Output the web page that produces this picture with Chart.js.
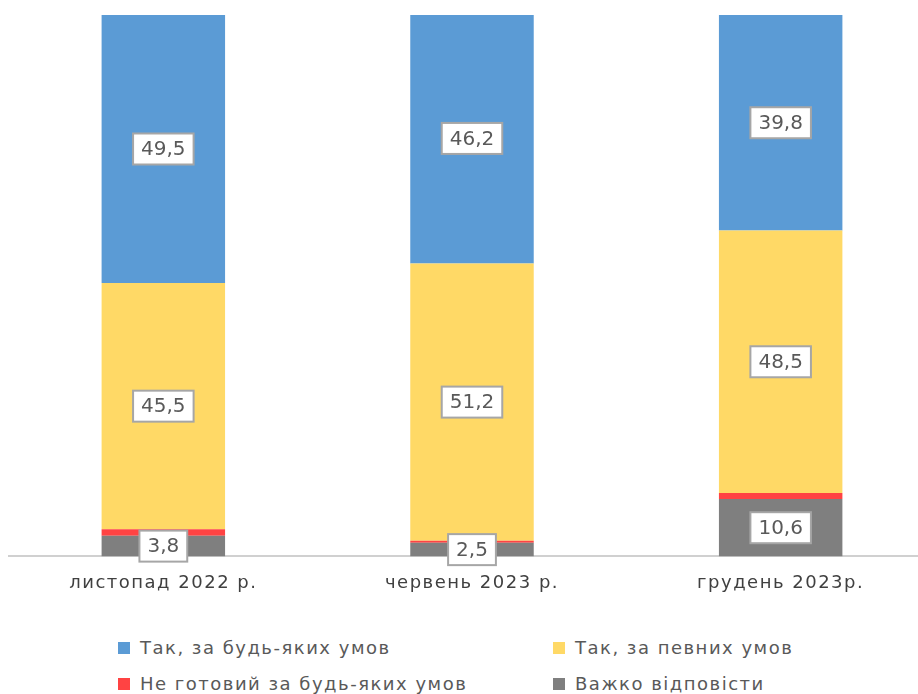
<!DOCTYPE html>
<html>
<head>
<meta charset="utf-8">
<script src="https://cdn.jsdelivr.net/npm/chart.js@4/dist/chart.umd.min.js"></script>
<style>
    html, body { margin: 0; padding: 0; background: #fff; overflow: hidden; }
    #wrap { position: relative; width: 935px; height: 610px; }
    .legend { position: absolute; font-family: "DejaVu Sans", sans-serif; font-size: 18px; letter-spacing: 1.5px; color: #595959; white-space: nowrap; }
    .legend span { display: inline-block; width: 12px; height: 12px; margin-right: 10px; vertical-align: 0px; }
</style>
</head>
<body>
<div id="wrap"><canvas id="myChart"></canvas></div>
<div class="legend" style="left:118px; top:637px;"><span style="background:#5b9bd5"></span>Так, за будь-яких умов</div>
<div class="legend" style="left:553px; top:637px;"><span style="background:#ffd966"></span>Так, за певних умов</div>
<div class="legend" style="left:118px; top:673px;"><span style="background:#ff4343"></span>Не готовий за будь-яких умов</div>
<div class="legend" style="left:553px; top:673px;"><span style="background:#7f7f7f"></span>Важко відповісти</div>
<script>
var periods = ["листопад 2022 р.", "червень 2023 р.", "грудень 2023р."];
var vazhko = [3.8, 2.5, 10.6];
var neGotovyi = [1.2, 0.4, 1.1];
var pevnykh = [45.5, 51.2, 48.5];
var budYakykh = [49.5, 46.2, 39.8];

// wider spacing for the category labels
var spacing = {
    id: "spacing",
    beforeDraw: function (chart) {
        chart.ctx.letterSpacing = "1.5px";
    },
    beforeDatasetsDraw: function (chart) {
        chart.ctx.letterSpacing = "0px";
    },
};

// boxes with the values in the middle of each segment
var boxLabels = {
    id: "boxLabels",
    afterDatasetsDraw: function (chart) {
        var ctx = chart.ctx;
        ctx.save();
        ctx.font = "20px 'DejaVu Sans', sans-serif";
        ctx.textAlign = "center";
        ctx.textBaseline = "middle";
        chart.data.datasets.forEach(function (ds, i) {
            if (ds.noLabel) return;
            chart.getDatasetMeta(i).data.forEach(function (bar, j) {
                var txt = ds.data[j].toFixed(1).replace(".", ",");
                var cy = (bar.y + bar.base) / 2;
                var w = ctx.measureText(txt).width + 16;
                var h = 31;
                ctx.fillStyle = "#ffffff";
                ctx.fillRect(bar.x - w / 2, cy - h / 2, w, h);
                ctx.strokeStyle = "#a6a6a6";
                ctx.lineWidth = 2;
                ctx.strokeRect(bar.x - w / 2, cy - h / 2, w, h);
                ctx.fillStyle = "#595959";
                ctx.fillText(txt, bar.x, cy + 1);
            });
        });
        ctx.restore();
    },
};

var ctx = document.getElementById("myChart").getContext("2d");
var myChart = new Chart(ctx, {
    type: "bar",
    data: {
        labels: periods,
        datasets: [
            { label: "Важко відповісти", data: vazhko, backgroundColor: "#7f7f7f" },
            { label: "Не готовий за будь-яких умов", data: neGotovyi, backgroundColor: "#ff4343", noLabel: true },
            { label: "Так, за певних умов", data: pevnykh, backgroundColor: "#ffd966" },
            { label: "Так, за будь-яких умов", data: budYakykh, backgroundColor: "#5b9bd5" },
        ],
    },
    options: {
        responsive: true,
        maintainAspectRatio: false,
        animation: false,
        layout: { padding: { left: 9, right: 0, top: 15, bottom: 8 } },
        datasets: { bar: { barPercentage: 0.4, categoryPercentage: 1 } },
        plugins: {
            legend: { display: false },
            tooltip: { enabled: false },
        },
        scales: {
            x: {
                stacked: true,
                grid: { display: false },
                border: { display: true, color: "#d0d0d0", width: 2 },
                ticks: { color: "#404040", font: { family: "'DejaVu Sans', sans-serif", size: 18 }, padding: 8 },
            },
            y: {
                stacked: true,
                display: false,
                min: 0,
                max: 100,
            },
        },
    },
    plugins: [spacing, boxLabels],
});
</script>
</body>
</html>
